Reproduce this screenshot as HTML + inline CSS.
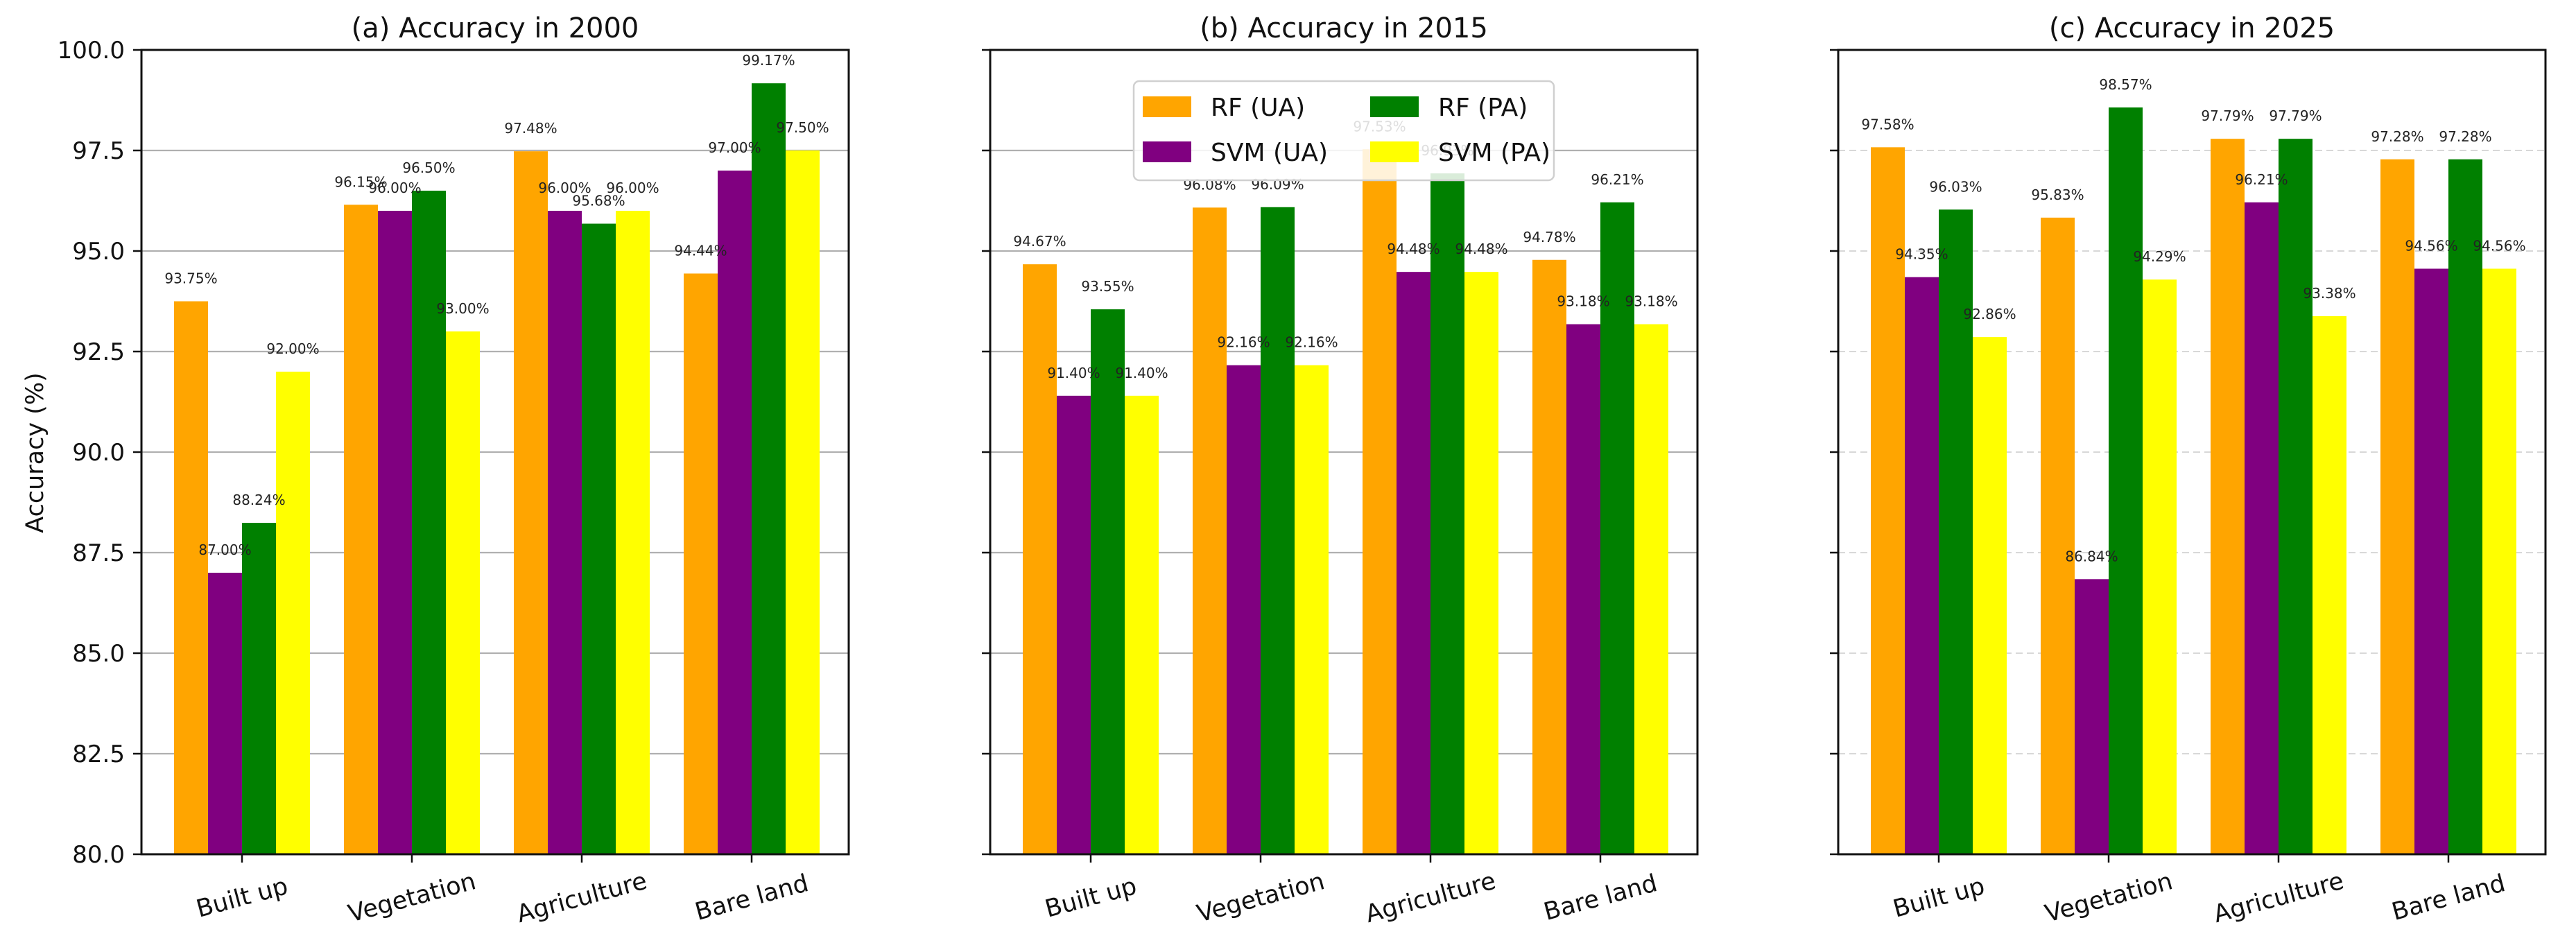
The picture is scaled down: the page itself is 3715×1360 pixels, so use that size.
<!DOCTYPE html>
<html><head><meta charset="utf-8"><style>
html,body{margin:0;padding:0;background:#fff;}
svg{display:block;font-family:"DejaVu Sans","Liberation Sans",sans-serif;}
</style></head><body>
<svg id="chart" width="3715" height="1360" viewBox="0 0 3715 1360" xmlns="http://www.w3.org/2000/svg"></svg>
<script>
const categories = ["Built up","Vegetation","Agriculture","Bare land"];
const seriesNames = ["RF (UA)","SVM (UA)","RF (PA)","SVM (PA)"];
const seriesColors = ["#ffa500","#800080","#008000","#ffff00"];
const panelTitles = ["(a) Accuracy in 2000","(b) Accuracy in 2015","(c) Accuracy in 2025"];
const rfUA2000 = [93.75,96.15,97.48,94.44];
const svmUA2000 = [87.00,96.00,96.00,97.00];
const rfPA2000 = [88.24,96.50,95.68,99.17];
const svmPA2000 = [92.00,93.00,96.00,97.50];
const rfUA2015 = [94.67,96.08,97.53,94.78];
const svmUA2015 = [91.40,92.16,94.48,93.18];
const rfPA2015 = [93.55,96.09,96.93,96.21];
const svmPA2015 = [91.40,92.16,94.48,93.18];
const rfUA2025 = [97.58,95.83,97.79,97.28];
const svmUA2025 = [94.35,86.84,96.21,94.56];
const rfPA2025 = [96.03,98.57,97.79,97.28];
const svmPA2025 = [92.86,94.29,93.38,94.56];
const yTicks = [80.0,82.5,85.0,87.5,90.0,92.5,95.0,97.5,100.0];
const yMin = 80, yMax = 100;

const panels = [
  {left:204, data:[rfUA2000,svmUA2000,rfPA2000,svmPA2000], labels:true, dashed:false, name:'panel-2000'},
  {left:1428, data:[rfUA2015,svmUA2015,rfPA2015,svmPA2015], labels:false, dashed:false, name:'panel-2015'},
  {left:2651, data:[rfUA2025,svmUA2025,rfPA2025,svmPA2025], labels:false, dashed:true, name:'panel-2025'}
];
const W = 1020, TOP = 72, BOT = 1232;
const svg = document.getElementById('chart');
const NS = 'http://www.w3.org/2000/svg';
function mk(tag, attrs, parent){ const e=document.createElementNS(NS,tag); for(const k in attrs) e.setAttribute(k,attrs[k]); (parent||svg).appendChild(e); return e; }
function yS(v){ return BOT - (v - yMin)/(yMax - yMin)*(BOT - TOP); }

panels.forEach((p, pi) => {
  const g = mk('g', {});
  
  
  const xC = i => p.left + 145 + i*245;
  const bw = 49;
  // grid
  yTicks.forEach(t => {
    if (t === yMin || t === yMax) return;
    const l = mk('line', {x1:p.left, x2:p.left+W, y1:yS(t), y2:yS(t), stroke: p.dashed ? '#d8d8d8' : '#b0b0b0', 'stroke-width': p.dashed?2:2.2, 'stroke-dasharray': p.dashed?'10,6':'none'}, g);
    
    
  });
  // bars
  p.data.forEach((vals, si) => {
    vals.forEach((v, ci) => {
      const x = xC(ci) - 2*bw + si*bw;
      const r = mk('rect', {x:x, y:yS(v), width:bw, height:BOT - yS(v), fill:seriesColors[si]}, g);
      
      
    });
  });
  p.data.forEach((vals, si) => {
    vals.forEach((v, ci) => {
      const x = xC(ci) - 2*bw + si*bw + bw/2;
      const t = mk('text', {x:x, y:yS(v) - 26, 'font-size':20, 'text-anchor':'middle', fill:'#222'}, g);
      t.textContent = v.toFixed(2) + '%';
      
      
    });
  });
  // axes frame
  const fr = mk('rect', {x:p.left, y:TOP, width:W, height:BOT-TOP, fill:'none', stroke:'#111', 'stroke-width':3}, g);
  
  
  // y ticks
  yTicks.forEach(t => {
    mk('line', {x1:p.left-12, x2:p.left, y1:yS(t), y2:yS(t), stroke:'#111', 'stroke-width':2.5}, g);
    if (p.labels) {
      const tl = mk('text', {x:p.left-24, y:yS(t)+12, 'font-size':34, 'text-anchor':'end', fill:'#111'}, g);
      tl.textContent = t.toFixed(1);
      
      
    }
  });
  // x ticks & labels
  categories.forEach((c, ci) => {
    const x = xC(ci);
    mk('line', {x1:x, x2:x, y1:BOT, y2:BOT+12, stroke:'#111', 'stroke-width':2.5}, g);
    const tl = mk('text', {x:x, y:BOT+74, 'font-size':35, 'text-anchor':'middle', fill:'#111', transform:'rotate(-15 '+x+' '+(BOT+62)+')'}, g);
    tl.textContent = c;
    
    
  });
  const tt = mk('text', {x:p.left + W/2, y:54, 'font-size':40, 'text-anchor':'middle', fill:'#111'}, g);
  tt.textContent = panelTitles[pi];
  
  
});

// y-axis title
const yl = mk('text', {x:62, y:653, 'font-size':35, 'text-anchor':'middle', fill:'#111', transform:'rotate(-90 62 653)'});
yl.textContent = 'Accuracy (%)';



// legend
const lg = mk('g', {});


mk('rect', {x:1635, y:117, width:606, height:143, rx:8, fill:'#fff', 'fill-opacity':0.85, stroke:'#d0d0d0', 'stroke-width':2.5}, lg);
const legPos = [[1648,139],[1648,204],[1976,139],[1976,204]];
seriesNames.forEach((n, i) => {
  const [hx, hy] = legPos[i];
  const h = mk('rect', {x:hx, y:hy, width:70, height:30, fill:seriesColors[i]}, lg);
  
  
  const t = mk('text', {x:hx+98, y:hy+28, 'font-size':36, fill:'#111'}, lg);
  t.textContent = n;
  
  
});
</script>
</body></html>
